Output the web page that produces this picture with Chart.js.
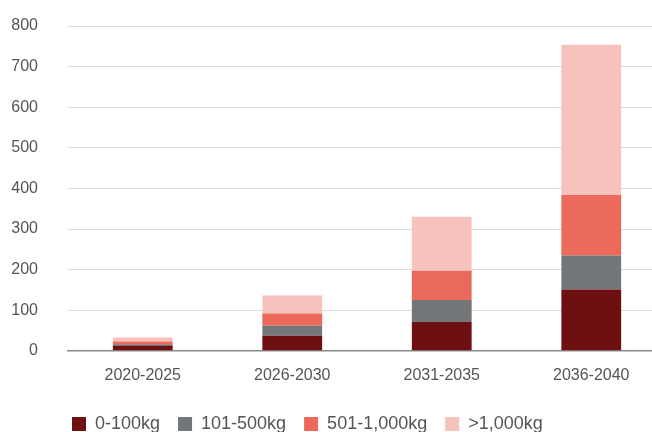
<!DOCTYPE html>
<html>
<head>
<meta charset="utf-8">
<script src="https://cdn.jsdelivr.net/npm/chart.js@4/dist/chart.umd.min.js"></script>
<style>
    html, body { margin: 0; padding: 0; background: #fff; overflow: hidden; }
    #wrap { width: 666px; height: 432px; }
</style>
</head>
<body>
<div id="wrap"><canvas id="chart_barras"></canvas></div>
<script>
const periodos = ['2020-2025', '2026-2030', '2031-2035', '2036-2040'];
const ate100 = [13, 37, 71, 151];
const de101a500 = [3, 25, 54, 84];
const de501a1000 = [7, 30, 72, 149];
const acima1000 = [10, 44, 133, 370];

const ctx = document.getElementById('chart_barras');

const posicaoLegenda = { // Ajusta a posição da legenda (início em x=72, texto centrado em y=424)
    id: 'posicaoLegenda',
    afterLayout(chart) {
        const leg = chart.legend;
        const pad = leg.options.labels.padding;
        leg.left = 72 - pad;
        leg.top = 424 - pad - 9;
    }
};

new Chart(ctx, { // Gráfico de barras empilhadas
    type: 'bar',
    plugins: [posicaoLegenda],
    data: {
        labels: periodos,
        datasets: [{
            label: '0-100kg',
            data: ate100,
            backgroundColor: '#6e0f12'
        },
        {
            label: '101-500kg',
            data: de101a500,
            backgroundColor: '#747779'
        },
        {
            label: '501-1,000kg',
            data: de501a1000,
            backgroundColor: '#ec6a5c'
        },
        {
            label: '>1,000kg',
            data: acima1000,
            backgroundColor: '#f6c2bc'
        }]
    },
    options: {
        responsive: true,
        maintainAspectRatio: false,
        animation: false,
        layout: {
            padding: { top: 26, left: 0, right: 0, bottom: -6 }
        },
        datasets: {
            bar: {
                barPercentage: 1,
                categoryPercentage: 0.4
            }
        },
        scales: {
            x: {
                stacked: true,
                grid: { display: false },
                border: { display: true, color: '#8a8a8a', width: 1.5 },
                ticks: {
                    color: '#555555',
                    padding: 7,
                    font: { family: 'Liberation Sans', size: 16 }
                }
            },
            y: {
                stacked: true,
                min: 0,
                max: 800,
                afterFit: (s) => { s.width = 68; },
                border: { display: false },
                grid: {
                    drawTicks: true,
                    tickLength: 28,
                    tickColor: 'rgba(0,0,0,0)',
                    color: (c) => c.tick && c.tick.value === 0 ? '#8a8a8a' : '#dcdcdc',
                    lineWidth: 1
                },
                ticks: {
                    stepSize: 100,
                    padding: 2,
                    color: '#555555',
                    font: { family: 'Liberation Sans', size: 16 }
                }
            }
        },
        plugins: {
            title: { display: false },
            tooltip: { enabled: false },
            legend: {
                display: true,
                position: 'bottom',
                align: 'start',
                fullSize: false,
                labels: {
                    boxWidth: 14,
                    boxHeight: 14,
                    padding: 18,
                    color: '#555555',
                    font: { family: 'Liberation Sans', size: 18 }
                }
            }
        }
    }
});
</script>
</body>
</html>
